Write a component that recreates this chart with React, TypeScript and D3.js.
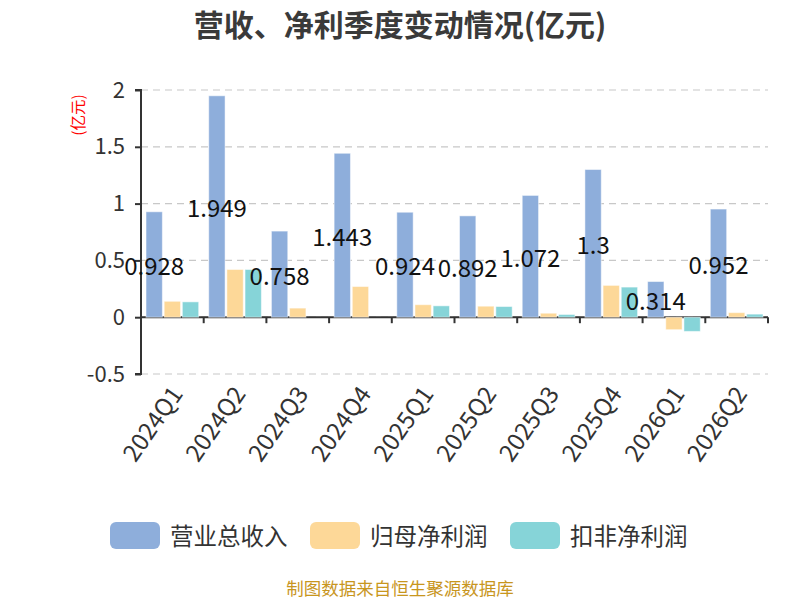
import * as d3 from "d3";
import React, { RefObject, useEffect, useRef } from "react";

const categories = ["2024Q1", "2024Q2", "2024Q3", "2024Q4", "2025Q1", "2025Q2", "2025Q3", "2025Q4", "2026Q1", "2026Q2"];
const seriesNames = ["营业总收入", "归母净利润", "扣非净利润"];
const revenue = [0.928, 1.949, 0.758, 1.443, 0.924, 0.892, 1.072, 1.3, 0.314, 0.952];
const netProfit = [0.14, 0.42, 0.08, 0.27, 0.11, 0.097, 0.035, 0.28, -0.11, 0.04];
const deductedProfit = [0.135, 0.42, 0, 0, 0.1, 0.094, 0.024, 0.265, -0.125, 0.027];
const yTicks = [-0.5, 0, 0.5, 1, 1.5, 2];
const colors = ["#8eaedb", "#fdd898", "#86d4d8"];

const font = "'Noto Sans CJK SC', 'Noto Sans', sans-serif";

const App = () => {
  const d3Ref: RefObject<HTMLDivElement> = useRef(null);

  useEffect(() => {
    const width = 800;
    const height = 600;
    const left = 141;
    const right = 768;
    const top = 90;
    const bottom = 374;

    d3.select(d3Ref.current).selectAll("*").remove();
    const svg = d3
      .select(d3Ref.current)
      .append("svg")
      .attr("width", width)
      .attr("height", height)
      .style("font-family", font);

    svg.append("rect").attr("width", width).attr("height", height).attr("fill", "#fff");

    const x0 = d3.scaleBand().domain(categories).range([left, right]).paddingInner(0.16).paddingOuter(0.08);
    const x1 = d3.scaleBand().domain(["0", "1", "2"]).range([0, x0.bandwidth()]).paddingInner(0.1);
    const y = d3.scaleLinear().domain([-0.5, 2]).range([bottom, top]);
    const step = x0.step();

    // title
    svg.append("text")
      .attr("x", 400)
      .attr("y", 23)
      .attr("text-anchor", "middle")
      .attr("dominant-baseline", "central")
      .attr("font-size", 30)
      .attr("font-weight", "bold")
      .attr("fill", "#3a3a3a")
      .text("营收、净利季度变动情况(亿元)");

    // y label
    svg.append("text")
      .attr("transform", `translate(77, 115) rotate(-90)`)
      .attr("text-anchor", "middle")
      .attr("dominant-baseline", "central")
      .attr("font-size", 15.5)
      .attr("fill", "#ff0000")
      .text("(亿元)");

    // grid
    svg.append("g")
      .selectAll("line")
      .data(yTicks)
      .enter()
      .append("line")
      .attr("x1", left)
      .attr("x2", right)
      .attr("y1", (d) => y(d))
      .attr("y2", (d) => y(d))
      .attr("stroke", "#c8c8c8")
      .attr("stroke-width", 1.2)
      .attr("stroke-dasharray", "7,5");

    // y axis
    const yAxis = svg.append("g")
      .attr("transform", `translate(${left},0)`)
      .call(d3.axisLeft(y).tickValues(yTicks).tickSize(6).tickPadding(10).tickFormat((d) => String(d)));
    yAxis.select(".domain").attr("stroke", "#333").attr("stroke-width", 2).attr("d", `M-6,${top}H0V${bottom}H-6`);
    yAxis.selectAll(".tick line").attr("stroke", "#333").attr("stroke-width", 2);
    yAxis.selectAll(".tick text")
      .attr("font-size", 22)
      .attr("fill", "#333")
      .attr("font-family", font);

    // x axis at zero
    const zero = y(0);
    const xAxis = svg.append("g");
    xAxis.append("line")
      .attr("x1", left)
      .attr("x2", right)
      .attr("y1", zero)
      .attr("y2", zero)
      .attr("stroke", "#333")
      .attr("stroke-width", 2);
    xAxis.selectAll("line.tick")
      .data(d3.range(categories.length + 1))
      .enter()
      .append("line")
      .attr("class", "tick")
      .attr("x1", (i) => left + i * step)
      .attr("x2", (i) => left + i * step)
      .attr("y1", zero)
      .attr("y2", zero + 6)
      .attr("stroke", "#333")
      .attr("stroke-width", 2);

    // x labels
    svg.append("g")
      .selectAll("text")
      .data(categories)
      .enter()
      .append("text")
      .attr("transform", (d) => `translate(${(x0(d) as number) + x0.bandwidth() / 2 + 3}, ${bottom + 14}) rotate(-55)`)
      .attr("text-anchor", "end")
      .attr("dominant-baseline", "central")
      .attr("font-size", 24)
      .attr("fill", "#333")
      .text((d) => d);

    // bars
    const series = [revenue, netProfit, deductedProfit];
    series.forEach((vals, s) => {
      svg.append("g")
        .selectAll("rect")
        .data(vals)
        .enter()
        .append("rect")
        .attr("x", (d, i) => (x0(categories[i]) as number) + (x1(String(s)) as number))
        .attr("y", (d) => y(Math.max(0, d)))
        .attr("width", x1.bandwidth())
        .attr("height", (d) => Math.abs(y(d) - zero))
        .attr("fill", colors[s])
        .attr("stroke", "rgba(255,255,255,0.5)")
        .attr("stroke-width", 1);
    });

    // revenue labels, centered inside bars
    svg.append("g")
      .selectAll("text")
      .data(revenue)
      .enter()
      .append("text")
      .attr("x", (d, i) => (x0(categories[i]) as number) + (x1("0") as number) + x1.bandwidth() / 2)
      .attr("y", (d) => y(d / 2))
      .attr("text-anchor", "middle")
      .attr("dominant-baseline", "central")
      .attr("font-size", 24)
      .attr("fill", "#111")
      .text((d) => String(d));

    // legend
    const legend = svg.append("g");
    seriesNames.forEach((name, i) => {
      const lx = 110 + i * 200;
      legend.append("rect")
        .attr("x", lx)
        .attr("y", 522)
        .attr("width", 50)
        .attr("height", 27)
        .attr("rx", 6)
        .attr("fill", colors[i]);
      legend.append("text")
        .attr("x", lx + 60)
        .attr("y", 535)
        .attr("dominant-baseline", "central")
        .attr("font-size", 23.5)
        .attr("fill", "#333")
        .text(name);
    });

    // source
    svg.append("text")
      .attr("x", 400)
      .attr("y", 587)
      .attr("text-anchor", "middle")
      .attr("dominant-baseline", "central")
      .attr("font-size", 17.5)
      .attr("fill", "#c8961e")
      .text("制图数据来自恒生聚源数据库");
  }, [d3Ref]);

  return (
    <div style={{ position: "fixed", left: 0, top: 0 }}>
      <div ref={d3Ref} />
    </div>
  );
};

export default App;
